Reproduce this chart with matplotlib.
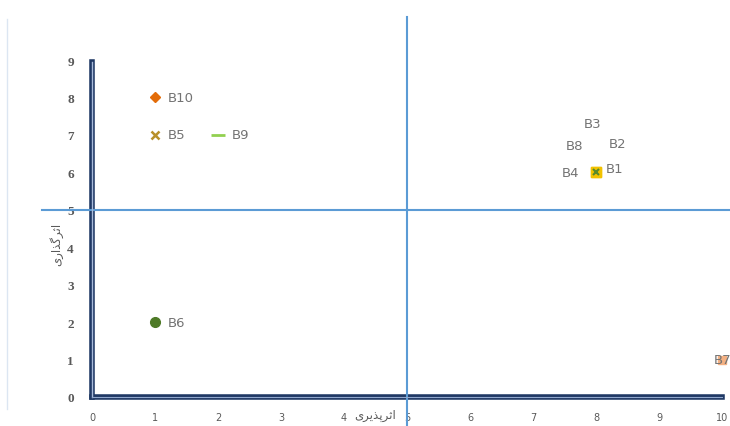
import matplotlib.pyplot as plt
from matplotlib.lines import Line2D

# data: influence (x) vs. being influenced (y)
names = ['B1', 'B2', 'B3', 'B4', 'B8', 'B5', 'B9', 'B10', 'B6', 'B7']
x_vals = [8, 8, 8, 8, 8, 1, 2, 1, 1, 10]
y_vals = [6, 6, 6, 6, 6, 7, 7, 8, 2, 1]
x_ticks = list(range(0, 11))
y_ticks = list(range(0, 10))


def shape(forms):
    # forms given in logical order, already in presentation form; reverse for LTR drawing
    return ''.join(reversed(forms))


# اثرپذیری / اثرگذاری built from Arabic presentation forms
x_label = shape(['\uFE8D', '\uFE9B', '\uFEAE', '\uFB58', '\uFEAC', '\uFBFE', '\uFEAE', '\uFBFC'])
y_label = shape(['\uFE8D', '\uFE9B', '\uFEAE', '\uFB94', '\uFEAC', '\uFE8D', '\uFEAD', '\uFBFC'])

# marker styles per point
styles = {
    'B1': dict(marker='s', color='#F2C200', ms=7),
    'B2': dict(marker='x', color='#5A8A2A', ms=5, mew=1.5),
    'B3': dict(marker='_', color='#70AD47', ms=6, mew=1.5),
    'B4': dict(marker='s', color='#F2C200', ms=7),
    'B8': dict(marker='x', color='#5A8A2A', ms=5, mew=1.5),
    'B5': dict(marker='x', color='#B8902A', ms=6, mew=1.8),
    'B9': dict(marker='_', color='#92D050', ms=10, mew=2),
    'B10': dict(marker='D', color='#E36C09', ms=5),
    'B6': dict(marker='o', color='#4E7A27', ms=7),
    'B7': dict(marker='s', color='#F4B183', ms=6),
}
# label offsets in points
offsets = {
    'B1': (7, 3), 'B2': (9, 21), 'B3': (-9, 35), 'B4': (-25, 0), 'B8': (-22, 19),
    'B5': (9, 0), 'B9': (10, 0), 'B10': (9, 0), 'B6': (9, 0), 'B7': (-6, 0),
}

fig = plt.figure(figsize=(7.3, 4.27), dpi=100)
ax = fig.add_axes([92 / 730, 29 / 427, 630 / 730, 337 / 427])

for n, x, y in zip(names, x_vals, y_vals):
    ax.plot(x, y, linestyle='none', clip_on=False, zorder=5, **styles[n])
    ax.annotate(n, (x, y), xytext=offsets[n], textcoords='offset points',
                ha='left', va='center', fontsize=9.5, color='#737373',
                annotation_clip=False, zorder=6)

ax.set_xlim(0, 10)
ax.set_ylim(0, 9)
ax.set_xticks(x_ticks)
ax.set_yticks(y_ticks)
ax.set_xticklabels([str(t) for t in x_ticks], fontsize=7, color='#595959')
ax.set_yticklabels([str(t) for t in y_ticks], fontsize=9.5, color='#595959',
                   family='Liberation Serif', fontweight='bold')
ax.tick_params(length=0)
ax.tick_params(axis='x', pad=11)
ax.tick_params(axis='y', pad=13)

for s in ['top', 'right']:
    ax.spines[s].set_visible(False)
for s in ['left', 'bottom']:
    ax.spines[s].set_linewidth(4)
    ax.spines[s].set_color('#1F3864')
ax.spines['left'].set_bounds(0, 8.95)
# lighter inner stripe of the double axis lines
ax.axvline(0, ymax=0.994, color='#A9BCDB', lw=1.0, clip_on=False, zorder=4)
ax.axhline(0, color='#8FA6CC', lw=0.8, clip_on=False, zorder=4)

# quadrant dividers
ax.axvline(5, ymin=-0.086, ymax=1.128, color='#5B9BD5', lw=1.5, clip_on=False, zorder=3)
ax.axhline(5, xmin=-0.079, xmax=1.02, color='#5B9BD5', lw=1.5, clip_on=False, zorder=3)

ax.text(4.49, -0.47, x_label, ha='center', va='center', fontsize=8.5,
        color='#595959', family='DejaVu Sans')
ax.text(-0.57, 4.1, y_label, ha='center', va='center', fontsize=8.5,
        color='#595959', rotation=90, family='DejaVu Sans')

# faint frame line at the left edge
fig.add_artist(Line2D([7 / 730, 7 / 730], [17 / 427, 407 / 427], color='#DCE6F2', lw=1))

fig.savefig('out.png', dpi=100, facecolor='white')
